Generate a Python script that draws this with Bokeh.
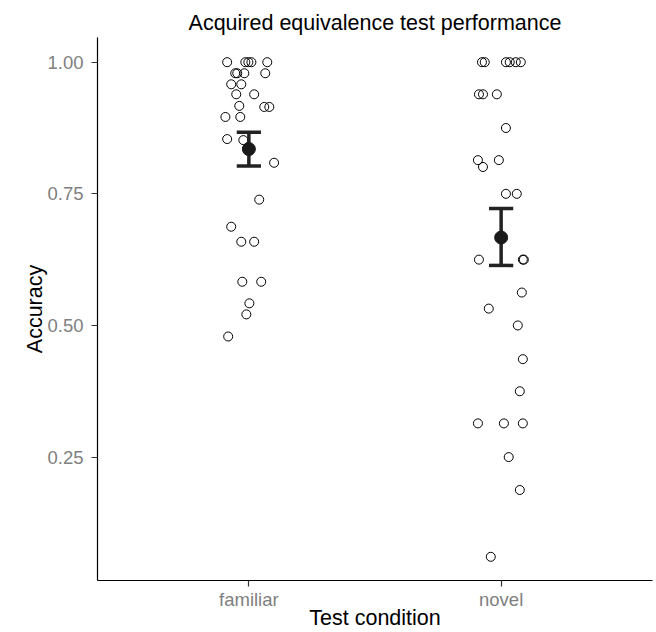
from bokeh.plotting import figure
from bokeh.models import Range1d, FixedTicker
from bokeh.embed import file_html
from bokeh.resources import INLINE

conditions = ["familiar", "novel"]
condition_pos = [1, 2]

# jittered observations (x = category position + jitter)
familiar_x = [0.914, 0.986, 0.998, 1.010, 1.073,
              0.946, 0.954, 0.982, 1.065,
              0.930, 0.970,
              0.950, 1.021,
              0.962, 1.061, 1.081,
              0.907, 0.966,
              0.914, 0.978,
              1.100, 1.041, 0.930,
              0.970, 1.021,
              0.974, 1.049,
              1.002, 0.990, 0.918]
familiar_y = [1.0, 1.0, 1.0, 1.0, 1.0,
              0.979, 0.979, 0.979, 0.979,
              0.958, 0.958,
              0.939, 0.939,
              0.917, 0.915, 0.915,
              0.896, 0.896,
              0.854, 0.852,
              0.809, 0.739, 0.6875,
              0.659, 0.659,
              0.583, 0.583,
              0.542, 0.521, 0.479]

novel_x = [1.924, 1.935, 2.019, 2.034, 2.058, 2.078,
           1.912, 1.928, 1.983,
           2.019,
           1.908, 1.928, 1.991,
           2.019, 2.062,
           1.912, 2.086, 2.090,
           2.082, 1.951, 2.066, 2.086, 2.074,
           1.908, 2.011, 2.086,
           2.030, 2.074, 1.959]
novel_y = [1.0, 1.0, 1.0, 1.0, 1.0, 1.0,
           0.939, 0.939, 0.939,
           0.875,
           0.814, 0.801, 0.814,
           0.75, 0.75,
           0.625, 0.625, 0.625,
           0.5625, 0.532, 0.5, 0.436, 0.375,
           0.314, 0.314, 0.314,
           0.25, 0.1875, 0.0606]

means = [0.835, 0.667]
lower = [0.803, 0.614]
upper = [0.867, 0.722]

y_ticks = [0.25, 0.5, 0.75, 1.0]
y_tick_labels = ["0.25", "0.50", "0.75", "1.00"]

FONT = "Liberation Sans"
cap = 0.048

p = figure(width=654, height=632, output_backend="svg", toolbar_location=None,
           x_range=Range1d(0.4, 2.6), y_range=Range1d(0.0156, 1.0469),
           min_border_left=97, min_border_right=2, min_border_top=37, min_border_bottom=50)

p.title.text = "Acquired equivalence test performance"
p.title.align = "center"
p.title.text_font = FONT
p.title.text_font_size = "21.5px"
p.title.text_font_style = "normal"
p.title.text_color = "#000000"
p.title.standoff = 5

p.grid.visible = False
p.outline_line_color = None
p.background_fill_color = "white"
p.border_fill_color = "white"

for ax in (p.xaxis[0], p.yaxis[0]):
    ax.axis_line_color = "#000000"
    ax.axis_line_width = 1.2
    ax.major_tick_line_color = "#333333"
    ax.major_tick_line_width = 1.2
    ax.major_tick_out = 6
    ax.major_tick_in = 0
    ax.minor_tick_line_color = None
    ax.major_label_text_font = FONT
    ax.major_label_text_font_size = "18.5px"
    ax.major_label_text_color = "#808080"
    ax.major_label_text_line_height = 1.0
    ax.axis_label_text_font = FONT
    ax.axis_label_text_font_size = "21.5px"
    ax.axis_label_text_font_style = "normal"
    ax.axis_label_text_color = "#000000"
    ax.axis_label_text_line_height = 1.0

p.xaxis.ticker = FixedTicker(ticks=condition_pos)
p.xaxis.major_label_overrides = {pos: name for pos, name in zip(condition_pos, conditions)}
p.xaxis.axis_label = "Test condition"
p.xaxis.major_label_standoff = 2
p.xaxis.axis_label_standoff = -7

p.yaxis.ticker = FixedTicker(ticks=y_ticks)
p.yaxis.major_label_overrides = {t: l for t, l in zip(y_ticks, y_tick_labels)}
p.yaxis.axis_label = "Accuracy"
p.yaxis.major_label_standoff = 8
p.yaxis.axis_label_standoff = -3

p.scatter(familiar_x, familiar_y, size=9, marker="circle",
          fill_color=None, line_color="#000000", line_width=1)
p.scatter(novel_x, novel_y, size=9, marker="circle",
          fill_color=None, line_color="#000000", line_width=1)

# error bars
p.segment(x0=condition_pos, y0=lower, x1=condition_pos, y1=upper,
          line_color="#222222", line_width=3.5)
p.segment(x0=[c - cap for c in condition_pos], y0=lower,
          x1=[c + cap for c in condition_pos], y1=lower,
          line_color="#222222", line_width=3.5)
p.segment(x0=[c - cap for c in condition_pos], y0=upper,
          x1=[c + cap for c in condition_pos], y1=upper,
          line_color="#222222", line_width=3.5)
p.scatter(condition_pos, means, size=13, marker="circle",
          fill_color="#1a1a1a", line_color="#1a1a1a")

open("out.html", "w").write(file_html(p, INLINE))
